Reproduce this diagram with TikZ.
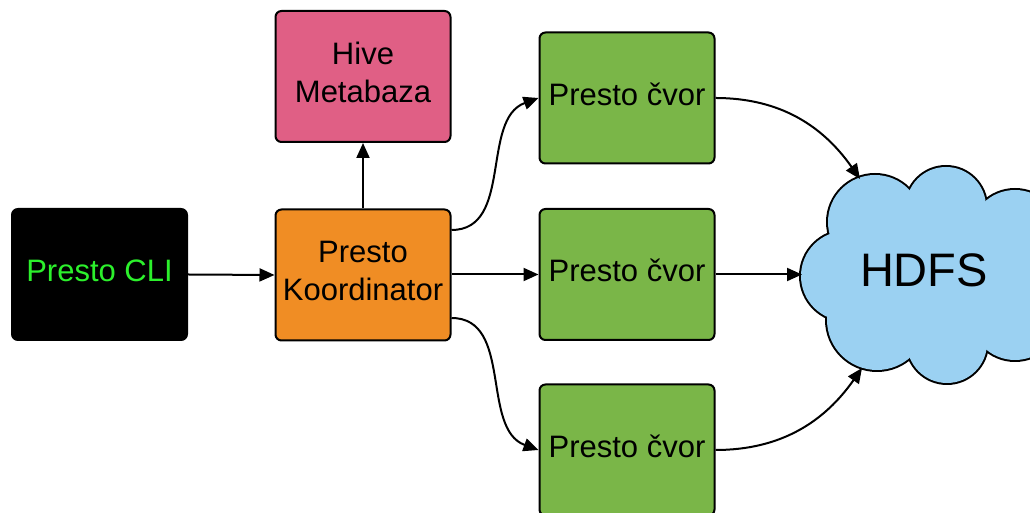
\documentclass[tikz,border=0pt]{standalone}
\usepackage{fontspec}
\setmainfont{Liberation Sans}
\usetikzlibrary{arrows.meta,calc}
\definecolor{cliText}{HTML}{2CF02C}
\definecolor{koordOrange}{HTML}{F08D24}
\definecolor{hivePink}{HTML}{E05F85}
\definecolor{nodeGreen}{HTML}{7AB648}
\definecolor{cloudBlue}{HTML}{9BD1F2}
\tikzset{
  box/.style={draw=black, line width=2pt, rounded corners=6pt, minimum width=175pt,
    minimum height=131pt, inner sep=0pt},
  boxtext/.style={yshift=4pt, align=center, inner sep=0pt,
    font=\fontsize{31}{38}\selectfont},
  conn/.style={line width=2pt, -{Triangle[length=15pt,width=13pt]}}
}
\begin{document}
\begin{tikzpicture}[x=1pt,y=1pt]
\useasboundingbox (0,0) rectangle (1030,513);
\clip (0,0) rectangle (1030,513);
% cloud (union of circles, outer outline only)
\foreach \c/\r in {{846,237}/45,{875,291}/47,{946,306}/40,{1015,278}/45,{877,193}/50,{947,170}/40,{1015,198}/45,{1048,238}/55}
  \draw[line width=4pt, fill=cloudBlue] (\c) circle (\r);
\foreach \c/\r in {{846,237}/45,{875,291}/47,{946,306}/40,{1015,278}/45,{877,193}/50,{947,170}/40,{1015,198}/45,{1048,238}/55}
  \fill[cloudBlue] (\c) circle (\r);
\fill[cloudBlue] (840,180) rectangle (1040,300);
\node[font=\fontsize{47}{56}\selectfont] (hdfs) at (924,243) {HDFS};
\coordinate (cTop) at (860,334);
\coordinate (cMid) at (802,238.5);
\coordinate (cBot) at (862,145);

% boxes
\node[box, fill=black, label={[boxtext, text=cliText]center:Presto CLI}] (cli) at (99.5,238.5) {};
\node[box, fill=koordOrange, label={[boxtext]center:Presto\\Koordinator}] (koord) at (363,238) {};
\node[box, fill=hivePink, label={[boxtext]center:Hive\\Metabaza}] (hive) at (363,436.5) {};
\node[box, fill=nodeGreen, label={[boxtext]center:Presto čvor}] (g1) at (627,415) {};
\node[box, fill=nodeGreen, label={[boxtext]center:Presto čvor}] (g2) at (627,238.5) {};
\node[box, fill=nodeGreen, label={[boxtext]center:Presto čvor}] (g3) at (627,63) {};

% connectors
\draw[conn] (cli.east) -- (koord.west);
\draw[conn] (koord.north) -- (hive.south);
\draw[conn] ([yshift=45pt]koord.east) to[out=0,in=200] (g1.west);
\draw[conn] (koord.east |- g2.west) -- (g2.west);
\draw[conn] ([yshift=-43pt]koord.east) to[out=0,in=160] (g3.west);
\draw[conn] (g1.east) to[out=0,in=125] (cTop);
\draw[conn] (g2.east) -- (cMid);
\draw[conn] (g3.east) to[out=0,in=235] (cBot);
\end{tikzpicture}
\end{document}
